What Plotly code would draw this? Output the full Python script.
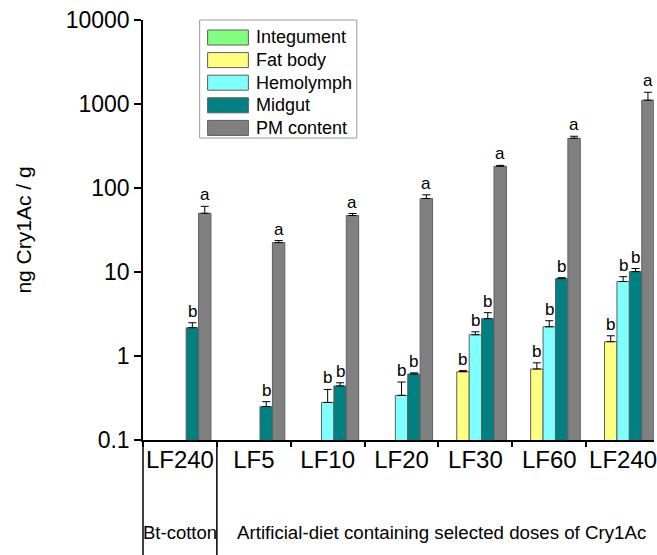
import math
import plotly.graph_objects as go

# ---- data ----
categories = ["LF240", "LF5", "LF10", "LF20", "LF30", "LF60", "LF240"]
series_names = ["Integument", "Fat body", "Hemolymph", "Midgut", "PM content"]

integument = [None, None, None, None, None, None, None]
fat_body = [None, None, None, None, 0.65, 0.70, 1.48]
hemolymph = [None, None, 0.28, 0.34, 1.79, 2.23, 7.7]
midgut = [2.17, 0.25, 0.44, 0.61, 2.78, 8.35, 10.1]
pm_content = [50, 22.4, 47, 75, 181, 391, 1110]

integument_err = [0, 0, 0, 0, 0, 0, 0]
fat_body_err = [0, 0, 0, 0, 0.02, 0.13, 0.26]
hemolymph_err = [0, 0, 0.12, 0.15, 0.15, 0.4, 1.1]
midgut_err = [0.32, 0.036, 0.04, 0.02, 0.5, 0.2, 0.9]
pm_content_err = [10.5, 1.3, 2.7, 8, 5, 22, 270]

integument_letters = ["", "", "", "", "", "", ""]
fat_body_letters = ["", "", "", "", "b", "b", "b"]
hemolymph_letters = ["", "", "b", "b", "b", "b", "b"]
midgut_letters = ["b", "b", "b", "b", "b", "b", "b"]
pm_content_letters = ["a", "a", "a", "a", "a", "a", "a"]

y_tick_vals = [0.1, 1, 10, 100, 1000, 10000]
y_tick_text = ["0.1", "1", "10", "100", "1000", "10000"]

group_labels = ["Bt-cotton", "Artificial-diet containing selected doses of Cry1Ac"]

# ---- styling ----
colors = ["#80FF80", "#FFFF80", "#80FFFF", "#008080", "#808080"]
FONT = "Liberation Sans, Arial, sans-serif"

W, H = 657, 555
ML, MR, MT, MB = 143, 0, 20, 115
PW, PH = W - ML - MR, H - MT - MB

BARGAP = 0.16
n_series = len(series_names)
slot = (1 - BARGAP) / n_series
x_min = -0.5
x_max = x_min + PW / 74.3

values = [integument, fat_body, hemolymph, midgut, pm_content]
errors = [integument_err, fat_body_err, hemolymph_err, midgut_err, pm_content_err]
letters = [integument_letters, fat_body_letters, hemolymph_letters,
           midgut_letters, pm_content_letters]

x_pos = list(range(len(categories)))

fig = go.Figure()
for name, vals, errs, col in zip(series_names, values, errors, colors):
    fig.add_trace(go.Bar(
        name=name, x=x_pos, y=vals,
        marker=dict(color=col, line=dict(color="rgb(95,95,95)", width=1)),
        error_y=dict(type="data", array=errs, arrayminus=[0] * len(errs),
                     symmetric=False, color="black", thickness=1, width=4),
        showlegend=False,
    ))


def px_x(px):
    return (px - ML) / PW


def px_y(py):
    return (MT + PH - py) / PH


annotations = []
# significance letters above each error bar
for s, (vals, errs, labs) in enumerate(zip(values, errors, letters)):
    offset = (s - (n_series - 1) / 2) * slot
    for i, (v, e, lab) in enumerate(zip(vals, errs, labs)):
        if v is None or not lab:
            continue
        annotations.append(dict(
            x=i + offset, y=math.log10(v + e), xref="x", yref="y",
            text=lab, showarrow=False, yanchor="bottom", yshift=0,
            font=dict(family=FONT, size=17, color="black"),
        ))

# group captions below the category labels
sep = (0.5 - x_min) / (x_max - x_min)
annotations.append(dict(
    x=sep / 2, y=px_y(532), xref="paper", yref="paper", text=group_labels[0],
    showarrow=False, xanchor="center", yanchor="middle",
    font=dict(family=FONT, size=18.5, color="black"),
))
annotations.append(dict(
    x=px_x(443), y=px_y(532), xref="paper", yref="paper", text=group_labels[1],
    showarrow=False, xanchor="center", yanchor="middle",
    font=dict(family=FONT, size=18.7, color="black"),
))

shapes = [
    # y-axis extension and group separator under the x axis
    dict(type="line", xref="paper", yref="paper", x0=0, x1=0,
         y0=0, y1=px_y(H), line=dict(color="black", width=1.5)),
    dict(type="line", xref="paper", yref="paper", x0=sep, x1=sep,
         y0=0, y1=px_y(H), line=dict(color="black", width=1.5)),
    # legend frame
    dict(type="rect", xref="paper", yref="paper",
         x0=px_x(200), x1=px_x(358), y0=px_y(138), y1=px_y(20),
         line=dict(color="#9a9a9a", width=1), fillcolor="white", layer="above"),
]

# legend entries
row0, row_step = 37.5, 22.6
for k, (name, col) in enumerate(zip(series_names, colors)):
    cy = row0 + k * row_step
    shapes.append(dict(
        type="rect", xref="paper", yref="paper",
        x0=px_x(208), x1=px_x(249), y0=px_y(cy + 7.5), y1=px_y(cy - 7.5),
        line=dict(color="rgb(95,95,95)", width=1), fillcolor=col, layer="above",
    ))
    annotations.append(dict(
        x=px_x(255), y=px_y(cy), xref="paper", yref="paper", text=name,
        showarrow=False, xanchor="left", yanchor="middle",
        font=dict(family=FONT, size=18, color="black"),
    ))

fig.update_layout(
    width=W, height=H,
    margin=dict(l=ML, r=MR, t=MT, b=MB, pad=0),
    paper_bgcolor="white", plot_bgcolor="white",
    barmode="group", bargap=BARGAP, bargroupgap=0,
    font=dict(family=FONT, color="black"),
    shapes=shapes, annotations=annotations,
    xaxis=dict(
        range=[x_min, x_max], tickmode="array", tickvals=x_pos,
        ticktext=categories, ticks="", showgrid=False, zeroline=False,
        showline=True, linecolor="black", linewidth=2,
        ticklabeloverflow="allow", ticklabelstandoff=-3,
        tickfont=dict(family=FONT, size=24, color="black"),
        minor=dict(ticks="outside", tick0=-0.5, dtick=1, ticklen=5,
                   tickwidth=1.5, tickcolor="black", showgrid=False),
    ),
    yaxis=dict(
        type="log", range=[-1, 4], tickmode="array", tickvals=y_tick_vals,
        ticktext=y_tick_text, ticks="outside", ticklen=7, tickwidth=1.5,
        tickcolor="black", showgrid=False, zeroline=False,
        showline=True, linecolor="black", linewidth=1.5,
        tickfont=dict(family=FONT, size=23, color="black"),
        title=dict(text="ng Cry1Ac / g", standoff=28,
                   font=dict(family=FONT, size=21, color="black")),
    ),
)

fig.write_html("out.html")
